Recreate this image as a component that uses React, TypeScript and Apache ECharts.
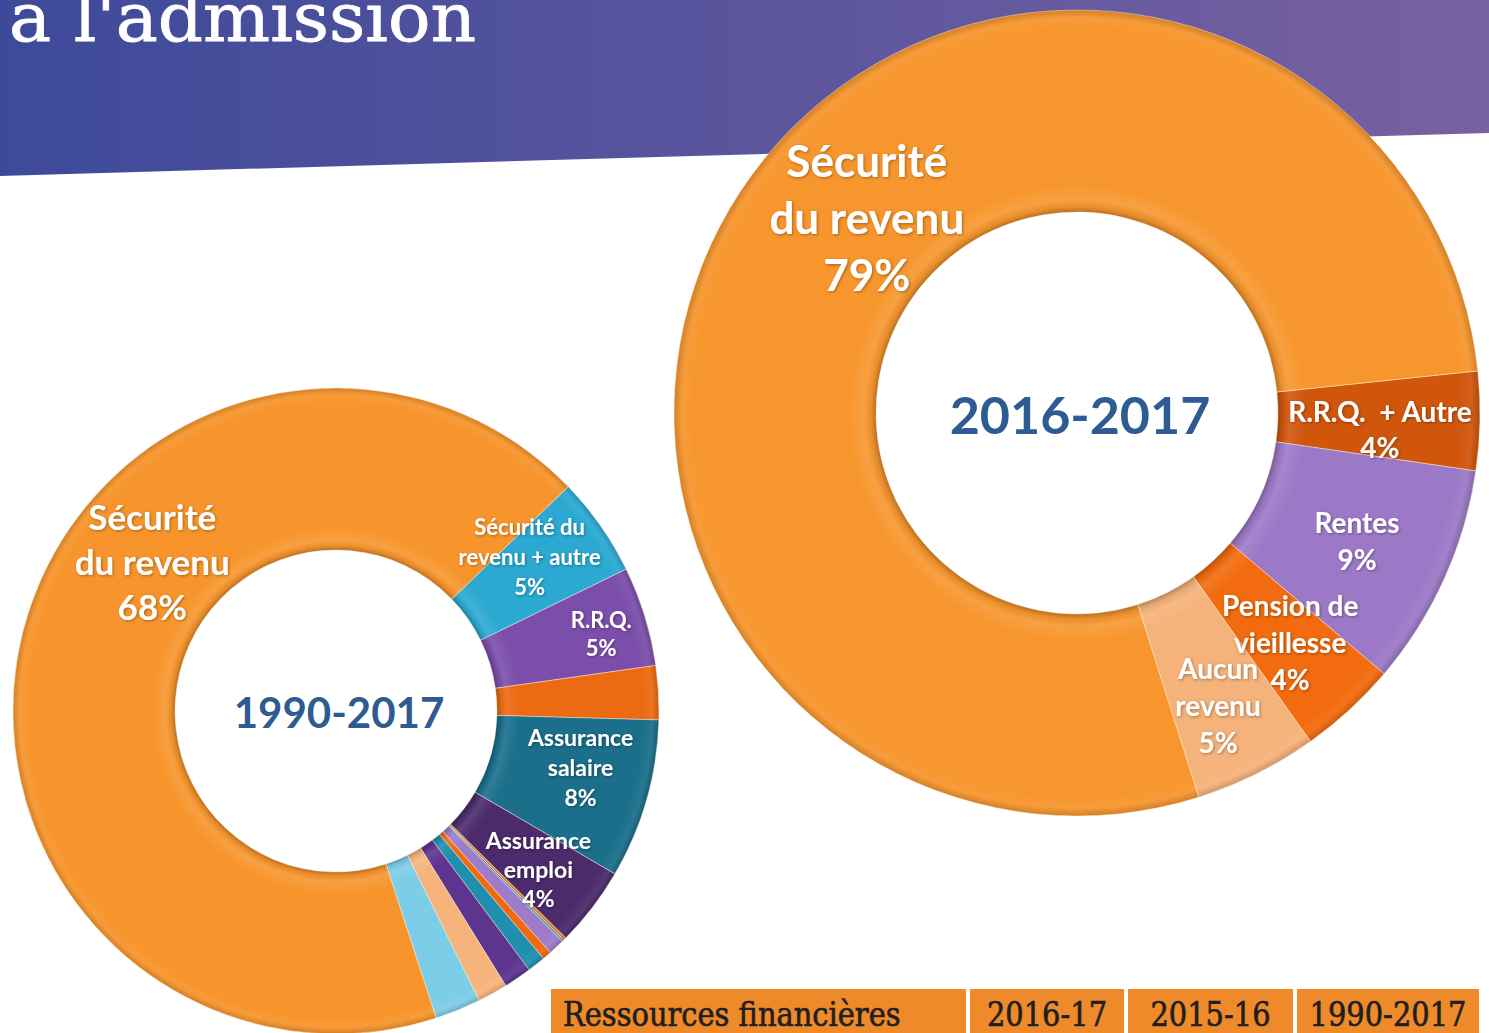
import React, { useEffect, useRef } from "react";
import * as echarts from "echarts";

const W = 1489;
const H = 1033;

// 2016-2017 donut
const recentNames = ["R.R.Q.  + Autre", "Rentes", "Pension de\nvieillesse", "Aucun\nrevenu", "Sécurité\ndu revenu"];
const recentValues = [4, 9, 4, 5, 79];
const recentColors = ["#D0560C", "#9C79C7", "#F26B0E", "#F5B27A", "#F7962D"];

// 1990-2017 donut
const histNames = [
  "Sécurité du\nrevenu + autre",
  "R.R.Q.",
  "Autre A",
  "Assurance\nsalaire",
  "Assurance\nemploi",
  "Autre B",
  "Autre C",
  "Autre D",
  "Autre E",
  "Autre F",
  "Autre G",
  "Autre H",
  "Autre I",
  "Sécurité\ndu revenu",
];
const histValues = [5, 5, 2.7, 8, 4, 0.15, 0.1, 0.8, 0.45, 0.9, 1.4, 1.5, 2.3, 68];
const histLabelled = [true, true, false, true, true, false, false, false, false, false, false, false, false, true];
const histColors = [
  "#2BA9D2", "#7C4EAB", "#EC6A12", "#1B6F8B", "#4B2B6C", "#EE7A1E", "#2C9FB8",
  "#9D7CC9", "#F06A10", "#1F8FAD", "#5D358F", "#F6B47C", "#7CCDE7", "#F7952C",
];

const headerText = "à l'admission";
const tableCells = ["Ressources financières", "2016-17", "2015-16", "1990-2017"];

// styles / layout
const recentCenter = [1077, 413];
const recentRadius = [201, 403];
const histCenter = [336, 711];
const histRadius = [161, 323];
const recentLabelSize = [28, 28, 28, 28, 44];
const recentLabelLH = [36, 37, 37, 37, 57];
const recentOffsets = [[-2, 10], [2, 2], [7, 4], [5, 19], [45, -29]];
const histLabelSize = [22, 22, 0, 23, 23, 0, 0, 0, 0, 0, 0, 0, 0, 35];
const histLabelLH = [30, 28, 0, 30, 29, 0, 0, 0, 0, 0, 0, 0, 0, 45];
const histOffsets = [[-7, -14], [31, -6], [0, 0], [9, -11], [8, 9], [0, 0], [0, 0], [0, 0], [0, 0], [0, 0], [0, 0], [0, 0], [0, 0], [54, -91]];

function mix(hex: string, t: number) {
  const n = parseInt(hex.slice(1), 16);
  let r = (n >> 16) & 255, g = (n >> 8) & 255, b = n & 255;
  const target = t >= 0 ? 255 : 0;
  const a = Math.abs(t);
  r = Math.round(r + (target - r) * a);
  g = Math.round(g + (target - g) * a);
  b = Math.round(b + (target - b) * a);
  return `rgb(${r},${g},${b})`;
}

function bevel(color: string, center: number[], radius: number[]) {
  const f = radius[0] / radius[1];
  return {
    type: "radial",
    x: center[0],
    y: center[1],
    r: radius[1],
    global: true,
    colorStops: [
      { offset: 0, color: color },
      { offset: f, color: mix(color, -0.25) },
      { offset: f + 0.012, color: mix(color, -0.06) },
      { offset: f + 0.03, color: mix(color, 0.1) },
      { offset: f + 0.07, color: color },
      { offset: 0.95, color: color },
      { offset: 0.98, color: mix(color, 0.06) },
      { offset: 1, color: mix(color, -0.15) },
    ],
  };
}

const labelFont = "Lato, 'Open Sans', sans-serif";

export default function App() {
  const ref = useRef<HTMLDivElement>(null);
  useEffect(() => {
    if (!ref.current) return;
    const chart = echarts.init(ref.current, undefined, { renderer: "svg" });

    const recentData = recentNames.map((name, i) => ({
      name,
      value: recentValues[i],
      itemStyle: { color: bevel(recentColors[i], recentCenter, recentRadius) },
      label: { fontSize: recentLabelSize[i], lineHeight: recentLabelLH[i] },
    }));
    const histData = histNames.map((name, i) => ({
      name,
      value: histValues[i],
      itemStyle: { color: bevel(histColors[i], histCenter, histRadius) },
      label: histLabelled[i]
        ? { show: true, fontSize: histLabelSize[i], lineHeight: histLabelLH[i] }
        : { show: false },
    }));

    const baseLabel = {
      show: true,
      position: "inside",
      color: "#ffffff",
      fontFamily: labelFont,
      fontWeight: "bold",
      align: "center",
      textShadowColor: "rgba(0,0,0,0.35)",
      textShadowBlur: 3,
      textShadowOffsetX: 1,
      textShadowOffsetY: 1,
      formatter: (p: any) => `${p.name}\n${p.value}%`,
    };

    const x0 = 551, widths = [415, 154, 165, 182], gap = 4;
    const cellX: number[] = [];
    let cx = x0;
    widths.forEach((w) => { cellX.push(cx); cx += w + gap; });

    const tableGraphics: any[] = [];
    tableCells.forEach((t, i) => {
      tableGraphics.push({
        type: "rect",
        z: 20,
        shape: { x: cellX[i], y: 989, width: widths[i], height: 60 },
        style: { fill: "#EF8A2B" },
      });
      tableGraphics.push({
        type: "text",
        z: 21,
        x: i === 0 ? cellX[i] + 12 : cellX[i] + widths[i] / 2,
        y: 1014,
        scaleX: 0.85,
        style: {
          text: t,
          fontFamily: "'DejaVu Serif', serif",
          fontSize: 34,
          fill: "#1f1f1f",
          stroke: "#1f1f1f",
          lineWidth: 0.7,
          align: i === 0 ? "left" : "center",
          verticalAlign: "middle",
        },
      });
    });

    chart.setOption({
      animation: false,
      graphic: [
        {
          type: "polygon",
          z: 0,
          shape: { points: [[0, 0], [W, 0], [W, 133], [0, 176]] },
          style: {
            fill: {
              type: "linear", x: 0, y: 0, x2: 1, y2: 0,
              colorStops: [
                { offset: 0, color: "#3D4A9A" },
                { offset: 0.5, color: "#5A559D" },
                { offset: 1, color: "#7861A0" },
              ],
            },
          },
        },
        {
          type: "text",
          z: 1,
          x: 9,
          y: 51,
          scaleX: 1.04,
          style: {
            text: headerText,
            fontFamily: "'DejaVu Serif', serif",
            fontSize: 68,
            fill: "#ffffff",
            stroke: "#ffffff",
            lineWidth: 0.8,
            align: "left",
            verticalAlign: "bottom",
          },
        },
        {
          type: "text",
          z: 20,
          x: 1080,
          y: 414,
          style: {
            text: "2016-2017",
            fontFamily: labelFont,
            fontWeight: "bold",
            fontSize: 52,
            fill: "#2E5B91",
            align: "center",
            verticalAlign: "middle",
          },
        },
        {
          type: "text",
          z: 20,
          x: 339,
          y: 712,
          style: {
            text: "1990-2017",
            fontFamily: labelFont,
            fontWeight: "bold",
            fontSize: 42,
            fill: "#2E5B91",
            align: "center",
            verticalAlign: "middle",
          },
        },
        ...tableGraphics,
      ],
      series: [
        {
          type: "pie",
          z: 5,
          center: recentCenter,
          radius: recentRadius,
          startAngle: 6,
          clockwise: true,
          avoidLabelOverlap: false,
          itemStyle: { borderColor: "rgba(255,240,220,0.45)", borderWidth: 1 },
          label: baseLabel,
          labelLine: { show: false },
          labelLayout: (p: any) => ({ dx: recentOffsets[p.dataIndex][0], dy: recentOffsets[p.dataIndex][1] }),
          emphasis: { disabled: true },
          data: recentData,
        },
        {
          type: "pie",
          z: 5,
          center: histCenter,
          radius: histRadius,
          startAngle: 44,
          clockwise: true,
          avoidLabelOverlap: false,
          minShowLabelAngle: 0,
          itemStyle: { borderColor: "rgba(255,240,220,0.45)", borderWidth: 1 },
          label: baseLabel,
          labelLine: { show: false },
          labelLayout: (p: any) => ({ dx: histOffsets[p.dataIndex][0], dy: histOffsets[p.dataIndex][1] }),
          emphasis: { disabled: true },
          data: histData,
        },
      ],
    });
    return () => chart.dispose();
  }, []);

  return (
    <div
      ref={ref}
      style={{ position: "fixed", left: 0, top: 0, width: W, height: H, background: "#ffffff" }}
    />
  );
}
